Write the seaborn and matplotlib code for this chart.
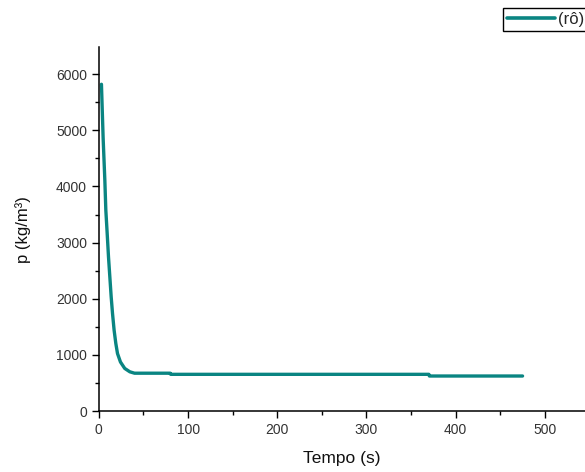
import matplotlib
matplotlib.use("Agg")
import matplotlib.pyplot as plt
import seaborn as sns
import pandas as pd
from matplotlib.ticker import MultipleLocator

# Density over time
tempo = [2.9, 4.8, 6.7, 7.8, 9.3, 10.8, 12.3, 13.8, 15.3, 17.1, 19.0, 20.9,
         24.2, 29.0, 34.7, 40.0, 80.0, 80.5, 370.0, 370.5, 475.0]
rho = [5820, 4855, 4110, 3580, 3170, 2745, 2390, 2035, 1740, 1440, 1205, 1025,
       875, 760, 700, 675, 675, 655, 655, 625, 625]

df = pd.DataFrame({"Tempo (s)": tempo, "rho": rho, "serie": "(rô)"})

sns.set_theme(style="ticks")
plt.rcParams["font.family"] = ["Liberation Sans", "DejaVu Sans"]

fig = plt.figure(figsize=(5.85, 4.72), dpi=100)
ax = fig.add_axes([0.169, 0.129, 0.831, 0.771])

sns.lineplot(data=df, x="Tempo (s)", y="rho", hue="serie", sort=False,
             palette=["#0a8582"], linewidth=2.4, ax=ax, legend=False)

ax.set_xlim(0, 545)
ax.set_ylim(0, 6480)
ax.xaxis.set_major_locator(MultipleLocator(100))
ax.xaxis.set_minor_locator(MultipleLocator(50))
ax.yaxis.set_major_locator(MultipleLocator(1000))
ax.yaxis.set_minor_locator(MultipleLocator(500))
ax.tick_params(which="major", direction="out", length=5, width=1,
               labelsize=10, labelcolor="#333333", color="black")
ax.tick_params(which="minor", direction="out", length=3, width=1, color="black")

for side in ("top", "right"):
    ax.spines[side].set_visible(False)
for side in ("left", "bottom"):
    ax.spines[side].set_linewidth(1.1)
    ax.spines[side].set_color("black")

ax.set_xlabel("Tempo (s)", fontsize=12.5, color="#111111", labelpad=10)
ax.set_ylabel("p (kg/m³)", fontsize=12, color="#111111", labelpad=18)

handle = plt.Line2D([], [], color="#0a8582", linewidth=2.6)
fig.legend([handle], ["(rô)"], loc="upper right", bbox_to_anchor=(1.005, 0.983),
           frameon=True, fancybox=False, edgecolor="black", fontsize=12,
           handlelength=2.9, handletextpad=0.15, borderpad=0.25,
           borderaxespad=0.0, framealpha=1)

fig.savefig("out.png", dpi=100)
